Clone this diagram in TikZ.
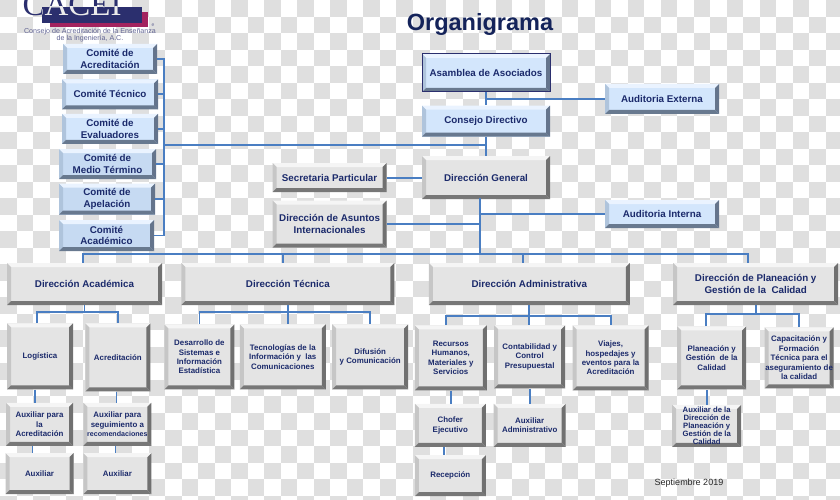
\documentclass[tikz,border=0pt]{standalone}
\usepackage{fontspec}
\usepackage{xcolor}
\usepackage{tikz}
\usetikzlibrary{positioning}
\setmainfont{Liberation Sans}
\newfontfamily\logofont{Liberation Serif}

\definecolor{navytext}{HTML}{1B2A6B}
\definecolor{titlenavy}{HTML}{14235A}
\definecolor{linkblue}{HTML}{4A7EC2}
\definecolor{checkgrey}{HTML}{DFDFDF}
\definecolor{logonavy}{HTML}{2B2F6E}
\definecolor{logored}{HTML}{A3235F}
\definecolor{facegrey}{HTML}{E4E4E4}
\definecolor{topgrey}{HTML}{F5F5F5}
\definecolor{leftgrey}{HTML}{C6C6C6}
\definecolor{rightgrey}{HTML}{707070}
\definecolor{lowgrey}{HTML}{777777}
\definecolor{faceblue}{HTML}{D3E6FC}
\definecolor{facelow}{HTML}{C6DAF2}
\definecolor{topblue}{HTML}{EAF3FF}
\definecolor{leftblue}{HTML}{AFC4DC}
\definecolor{rightblue}{HTML}{64748C}
\definecolor{lowblue}{HTML}{68798F}

\tikzset{
  bevelbox/.style n args={5}{
    rectangle, inner sep=0pt, align=center, fill=#1, text=navytext,
    path picture={
      \fill[#2] (path picture bounding box.north west) -- (path picture bounding box.north east)
        -- ([shift={(-4pt,-4pt)}]path picture bounding box.north east) -- ([shift={(4pt,-4pt)}]path picture bounding box.north west) -- cycle;
      \fill[#3] (path picture bounding box.north west) -- (path picture bounding box.south west)
        -- ([shift={(4pt,4pt)}]path picture bounding box.south west) -- ([shift={(4pt,-4pt)}]path picture bounding box.north west) -- cycle;
      \fill[#4] (path picture bounding box.north east) -- (path picture bounding box.south east)
        -- ([shift={(-4pt,4pt)}]path picture bounding box.south east) -- ([shift={(-4pt,-4pt)}]path picture bounding box.north east) -- cycle;
      \fill[#5] (path picture bounding box.south west) -- (path picture bounding box.south east)
        -- ([shift={(-4pt,4pt)}]path picture bounding box.south east) -- ([shift={(4pt,4pt)}]path picture bounding box.south west) -- cycle;
    }},
  greybox/.style={bevelbox={facegrey}{topgrey}{leftgrey}{rightgrey}{lowgrey}},
  bluebox/.style={bevelbox={faceblue}{topblue}{leftblue}{rightblue}{lowblue}},
  conn/.style={draw=linkblue, line width=1.8pt},
  big/.style={font=\fontsize{9.8}{11.7}\selectfont\bfseries},
  small/.style={font=\fontsize{7.9}{9.4}\selectfont\bfseries}
}

\begin{document}
\begin{tikzpicture}[x=1pt, y=-1pt]
\useasboundingbox (0,0) rectangle (840,500);

% checker background
\foreach \i in {0,...,50}
  \foreach \j in {0,...,30} {
    \pgfmathparse{int(mod(\i+\j,2))}
    \ifnum\pgfmathresult=0
      \fill[checkgrey] (\i*16.52,\j*16.52) rectangle (\i*16.52+16.52,\j*16.52+16.52);
    \fi
  }

% logo
\fill[logored] (50,12) rectangle (148,27);
\fill[logonavy] (42,7) rectangle (142,23);
\node[anchor=base, font=\logofont\fontsize{33}{33}\selectfont, text=logonavy, inner sep=0pt] (logodark) at (72,16) {CACEI};
\begin{scope}
  \clip (42,7) rectangle (142,23);
  \node[anchor=base, font=\logofont\fontsize{33}{33}\selectfont, text=black!8, inner sep=0pt] (logolight) at (72,16) {CACEI};
\end{scope}
\node[font=\fontsize{5}{5}\selectfont, text=logonavy!70] (logomark) at (153,25) {e};
\node[align=center, inner sep=0pt, text=logonavy!75, font=\fontsize{7.1}{6.2}\selectfont] (logotext) at (90,35) {Consejo de Acreditación de la Enseñanza\\de la Ingeniería, A.C.};

% title
\node[font=\fontsize{23.5}{24}\selectfont\bfseries, text=titlenavy, inner sep=0pt] (title) at (480,24) {Organigrama};

% comites
\node[bluebox, big, minimum width=94pt, minimum height=30pt] (acred) at (110,59) {Comité de\\Acreditación};
\node[bluebox, big, minimum width=96pt, minimum height=30pt, below=5pt of acred] (tecnico) {Comité Técnico};
\node[bluebox, big, minimum width=96pt, minimum height=30pt, below=4pt of tecnico] (evaluad) {Comité de\\Evaluadores};
\node[bluebox, big, fill=facelow, minimum width=97pt, minimum height=30pt, below=5pt of evaluad, xshift=-2.5pt] (medio) {Comité de\\Medio Término};
\node[bluebox, big, fill=facelow, minimum width=96pt, minimum height=31pt, below=4pt of medio, xshift=-.5pt] (apelac) {Comité de\\Apelación};
\node[bluebox, big, fill=facelow, minimum width=95pt, minimum height=31pt, below=5pt of apelac, xshift=-.5pt] (academ) {Comité\\Académico};

% direccion
\node[bluebox, big, minimum width=128pt, minimum height=38pt, draw=logonavy, line width=1pt] (asamblea) at (486,73) {Asamblea de Asociados};
\node[bluebox, big, minimum width=128pt, minimum height=31pt, below=13pt of asamblea] (consejo) {Consejo Directivo};
\node[greybox, big, minimum width=128pt, minimum height=43pt, below=19pt of consejo] (dirgen) {Dirección General};
\node[greybox, big, minimum width=114pt, minimum height=29pt, left=35pt of dirgen] (secret) {Secretaria Particular};
\node[greybox, big, minimum width=114pt, minimum height=47pt, below=8pt of secret] (asuntos) {Dirección de Asuntos\\Internacionales};
\node[bluebox, big, minimum width=114pt, minimum height=30pt] (audext) at (662,99) {Auditoria Externa};
\node[bluebox, big, minimum width=114pt, minimum height=28pt] (audint) at (662,214) {Auditoria Interna};

\coordinate (comitebus) at (164,145);
\coordinate (dgdrop) at (480,198);
\coordinate (dgbus) at (480,254);
\coordinate (buswest) at (83,254);
\coordinate (bustec) at (283,254);
\coordinate (busadm) at (523,254);
\coordinate (buseast) at (748,254);

\foreach \c in {acred,tecnico,evaluad,medio,apelac,academ}
  \draw[conn] (\c.east) -| (comitebus);
\draw[conn] (comitebus) -- (comitebus -| consejo.south);
\draw[conn] (asamblea.south) -- (consejo.north);
\draw[conn] (audext.west) -- (audext.west -| asamblea.south);
\draw[conn] (consejo.south) -- (dirgen.north);
\draw[conn] (secret.east) -- (secret.east -| dirgen.west);
\draw[conn] (dgdrop) -- (dgbus);
\draw[conn] (audint.west) -- (audint.west -| dgdrop);
\draw[conn] (asuntos.east) -- (asuntos.east -| dgdrop);

% direcciones de area
\node[greybox, big, minimum width=155pt, minimum height=42pt] (diracad) at (84.5,284) {Dirección Académica};
\node[greybox, big, minimum width=213pt, minimum height=42pt, right=19pt of diracad] (dirtec) {Dirección Técnica};
\node[greybox, big, minimum width=201pt, minimum height=42pt, right=34pt of dirtec] (diradm) {Dirección Administrativa};
\node[greybox, big, minimum width=165pt, minimum height=42pt, right=43pt of diradm] (dirplan) {Dirección de Planeación y\\Gestión de la~~Calidad};

\draw[conn] (buswest |- diracad.north) |- (buseast) -- (buseast |- dirplan.north);
\draw[conn] (bustec) -- (bustec |- dirtec.north);
\draw[conn] (busadm) -- (busadm |- diradm.north);

% academica
\node[greybox, small, minimum width=66pt, minimum height=66pt, below=18pt of diracad, xshift=-44.5pt] (logist) {Logística};
\node[greybox, small, minimum width=65pt, minimum height=68pt, right=12pt of logist, yshift=-1pt] (acredit) {Acreditación};
\node[greybox, small, minimum width=67pt, minimum height=43pt, below=13pt of logist, xshift=-.5pt] (auxacred) {Auxiliar para\\la\\Acreditación};
\node[greybox, small, minimum width=68pt, minimum height=43pt, below=11pt of acredit, xshift=-.5pt] (auxseg) {Auxiliar para\\seguimiento a\\{\fontsize{7.1}{9.4}\selectfont recomendaciones}};
\node[greybox, small, minimum width=68pt, minimum height=41pt, below=7pt of auxacred] (auxa) {Auxiliar};
\node[greybox, small, minimum width=68pt, minimum height=41pt, below=7pt of auxseg] (auxb) {Auxiliar};

\coordinate[below=7pt of diracad.south] (acadbus);
\draw[conn] (diracad.south) -- (acadbus);
\draw[conn] ([xshift=-3pt]logist.north) |- (acadbus) -| (acredit.north);
\draw[conn] ([xshift=-5pt]logist.south) -- ([xshift=-5pt]logist.south |- auxacred.north);
\draw[conn] ([xshift=-1.5pt]acredit.south) -- ([xshift=-1.5pt]acredit.south |- auxseg.north);
\draw[conn] ([xshift=-7pt]auxacred.south) -- ([xshift=-7pt]auxacred.south |- auxa.north);
\draw[conn] ([xshift=-2pt]auxseg.south) -- ([xshift=-2pt]auxseg.south |- auxb.north);

% tecnica
\node[greybox, small, minimum width=70pt, minimum height=65pt, below=19pt of dirtec, xshift=-88.5pt] (desarr) {Desarrollo de\\Sistemas e\\Información\\Estadística};
\node[greybox, small, minimum width=86pt, minimum height=65pt, right=5pt of desarr] (tecinf) {Tecnologías de la\\Información y~~las\\Comunicaciones};
\node[greybox, small, minimum width=76pt, minimum height=65pt, right=6pt of tecinf] (difus) {Difusión\\y Comunicación};

\coordinate[below=7pt of dirtec.south] (tecbus);
\draw[conn] (dirtec.south) -- ([yshift=-19pt]dirtec.south);
\draw[conn] (desarr.north) |- (tecbus) -| (difus.north);

% administrativa
\node[greybox, small, minimum width=72pt, minimum height=65pt, below=20pt of diradm, xshift=-78.5pt] (recurs) {Recursos\\Humanos,\\Materiales y\\Servicios};
\node[greybox, small, minimum width=71pt, minimum height=63pt, right=7pt of recurs, yshift=1pt] (contab) {Contabilidad y\\Control\\Presupuestal};
\node[greybox, small, minimum width=76pt, minimum height=65pt, right=7pt of contab, yshift=-1pt] (viajes) {Viajes,\\hospedajes y\\eventos para la\\Acreditación};
\node[greybox, small, minimum width=71pt, minimum height=43pt, below=13pt of recurs, xshift=-.5pt] (chofer) {Chofer\\Ejecutivo};
\node[greybox, small, minimum width=71pt, minimum height=41pt, below=8pt of chofer] (recep) {Recepción};
\node[greybox, small, minimum width=72pt, minimum height=43pt, below=15pt of contab] (auxadm) {Auxiliar\\Administrativo};

\coordinate[below=11pt of diradm.south] (admbus);
\draw[conn] (diradm.south) -- ([yshift=-20pt]diradm.south);
\draw[conn] ([xshift=-5pt]recurs.north) |- (admbus) -| (viajes.north);
\draw[conn] (recurs.south) -- (recurs.south |- chofer.north);
\draw[conn] (contab.south) -- (contab.south |- auxadm.north);
\draw[conn] ([xshift=-6pt]chofer.south) -- ([xshift=-6pt]chofer.south |- recep.north);

% planeacion
\node[greybox, small, minimum width=69pt, minimum height=63pt, below=21pt of dirplan, xshift=-44pt] (planea) {Planeación y\\Gestión~~de la\\Calidad};
\node[greybox, small, minimum width=69pt, minimum height=61pt, right=18pt of planea] (capac) {Capacitación y\\Formación\\Técnica para el\\aseguramiento de\\la calidad};
\node[greybox, font=\fontsize{7.7}{7.9}\selectfont\bfseries, minimum width=69pt, minimum height=42pt, below=15pt of planea, xshift=-5pt] (auxplan) {Auxiliar de la\\Dirección de\\Planeación y\\Gestión de la\\Calidad};

\coordinate[below=9pt of dirplan.south] (planbus);
\draw[conn] (dirplan.south) -- (planbus);
\draw[conn] ([xshift=-5.5pt]planea.north) |- (planbus) -| (capac.north);
\draw[conn] (auxplan.north) -- (auxplan.north |- planea.south);

\node[font=\fontsize{9}{10}\selectfont, text=black!85, inner sep=0pt] (fecha) at (689,483) {Septiembre 2019};

\end{tikzpicture}
\end{document}
